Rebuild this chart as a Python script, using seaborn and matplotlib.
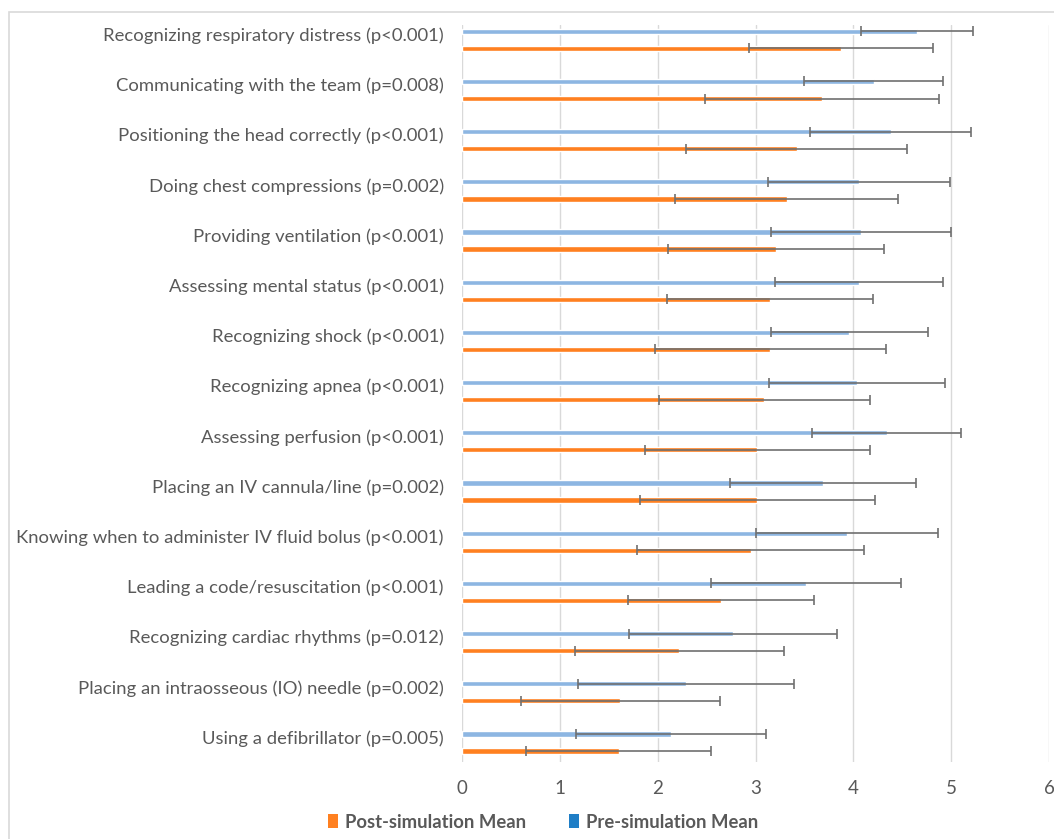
import numpy as np
import pandas as pd
import matplotlib
matplotlib.use("Agg")
import matplotlib.pyplot as plt
import matplotlib.transforms as mtransforms
import seaborn as sns
from matplotlib.patches import Patch, Rectangle

skills = [
    "Recognizing respiratory distress (p<0.001)",
    "Communicating with the team (p=0.008)",
    "Positioning the head correctly (p<0.001)",
    "Doing chest compressions (p=0.002)",
    "Providing ventilation (p<0.001)",
    "Assessing mental status (p<0.001)",
    "Recognizing shock (p<0.001)",
    "Recognizing apnea (p<0.001)",
    "Assessing perfusion (p<0.001)",
    "Placing an IV cannula/line (p=0.002)",
    "Knowing when to administer IV fluid bolus (p<0.001)",
    "Leading a code/resuscitation (p<0.001)",
    "Recognizing cardiac rhythms (p=0.012)",
    "Placing an intraosseous (IO) needle (p=0.002)",
    "Using a defibrillator (p=0.005)",
]

# Blue bars (legend: Pre-simulation Mean)
pre_mean = [4.65, 4.21, 4.38, 4.06, 4.08, 4.06, 3.96, 4.04, 4.34, 3.69, 3.94, 3.52, 2.77, 2.29, 2.14]
pre_sd = [0.57, 0.71, 0.82, 0.93, 0.92, 0.86, 0.80, 0.90, 0.76, 0.95, 0.93, 0.97, 1.06, 1.10, 0.97]

# Orange bars (legend: Post-simulation Mean)
post_mean = [3.87, 3.68, 3.42, 3.32, 3.21, 3.15, 3.15, 3.09, 3.02, 3.02, 2.95, 2.65, 2.22, 1.62, 1.60]
post_sd = [0.94, 1.20, 1.13, 1.14, 1.10, 1.05, 1.18, 1.08, 1.15, 1.20, 1.16, 0.95, 1.07, 1.02, 0.95]

series_labels = ["Pre-simulation Mean", "Post-simulation Mean"]
x_ticks = [0, 1, 2, 3, 4, 5, 6]

BLUE_BAR = "#8DB6E2"
ORANGE_BAR = "#FF8020"
BLUE_LEG = "#1F7EC6"
ORANGE_LEG = "#FF8020"
TEXT = "#595959"
GRID = "#D9D9D9"

df = pd.DataFrame({
    "skill": skills * 2,
    "value": pre_mean + post_mean,
    "series": [series_labels[0]] * len(skills) + [series_labels[1]] * len(skills),
})

sns.set_theme(style="white")
plt.rcParams["font.family"] = ["Lato", "DejaVu Sans"]

W, H = 1054, 839
fig = plt.figure(figsize=(W / 100, H / 100), dpi=100)
ax = fig.add_axes([462 / W, 1 - 762 / H, (1049 - 462) / W, (762 - 25) / H])

sns.barplot(
    data=df, y="skill", x="value", hue="series",
    hue_order=series_labels, order=skills,
    palette={series_labels[0]: BLUE_BAR, series_labels[1]: ORANGE_BAR},
    orient="h", width=0.68, gap=0.69, errorbar=None, legend=False,
    saturation=1, ax=ax, zorder=2,
)

for container, sds in zip(ax.containers, [pre_sd, post_sd]):
    for patch, sd in zip(container, sds):
        yc = patch.get_y() + patch.get_height() / 2
        xv = patch.get_width()
        ax.errorbar(xv, yc, xerr=sd, fmt="none", ecolor="#707070",
                    elinewidth=1.2, capsize=3.4, capthick=1.2, zorder=3)

ax.set_xlim(0, 6)
ax.set_ylim(14.39, -0.295)
ax.set_xticks(x_ticks)
ax.set_xticklabels([str(t) for t in x_ticks])
ax.xaxis.grid(True, color=GRID, linewidth=1.0, zorder=0)
ax.set_axisbelow(True)
ax.yaxis.grid(False)
for s in ax.spines.values():
    s.set_visible(False)
ax.set_xlabel("")
ax.set_ylabel("")
ax.tick_params(axis="y", length=0, colors=TEXT, labelsize=13.3, pad=13)
ax.tick_params(axis="x", length=0, colors=TEXT, labelsize=13.5, pad=13)

# category labels sit slightly above the centre of each bar pair
shift = mtransforms.ScaledTranslation(0, 5.5 / 100, fig.dpi_scale_trans)
for lbl in ax.get_yticklabels():
    lbl.set_transform(lbl.get_transform() + shift)

# outer chart frame
fig.patches.append(Rectangle((9 / W, -0.01), 1.0, 1 - 11.5 / H + 0.01,
                             transform=fig.transFigure, fill=False,
                             edgecolor="#D9D9D9", linewidth=1.2))

handles = [Patch(facecolor=ORANGE_LEG, edgecolor="none", label=series_labels[1]),
           Patch(facecolor=BLUE_LEG, edgecolor="none", label=series_labels[0])]
leg = fig.legend(handles=handles, loc="center", bbox_to_anchor=(543 / W, 1 - 822 / H),
                 ncol=2, frameon=False, handlelength=0.55, handleheight=0.75,
                 handletextpad=0.4, columnspacing=2.3,
                 prop={"weight": "bold", "size": 13.3})
for t in leg.get_texts():
    t.set_color(TEXT)

fig.savefig("out.png", dpi=100)
